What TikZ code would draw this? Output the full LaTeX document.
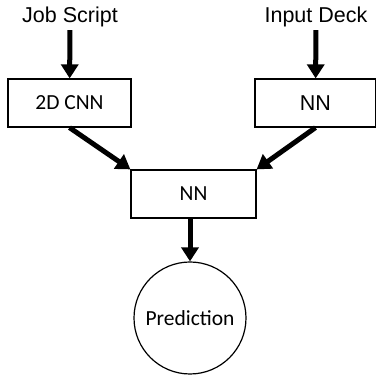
\documentclass[tikz,border=0pt]{standalone}
\usepackage{fontspec}
\setmainfont{Carlito}
\newfontfamily\arialfont{Liberation Sans}
\usetikzlibrary{arrows.meta}
\tikzstyle{lbl}=[inner sep=3pt, font=\arialfont\fontsize{21.5}{26}\selectfont]
\tikzstyle{bx}=[draw, line width=1.2pt, minimum height=48pt, inner sep=0, font=\fontsize{21.5}{26}\selectfont]
\tikzstyle{circ}=[draw, circle, line width=1.2pt, minimum size=112pt, inner sep=0, font=\fontsize{21.5}{26}\selectfont]
\tikzstyle{arr}=[line width=5pt, -{Triangle[length=14pt, width=17pt]}]

\begin{document}
\begin{tikzpicture}[x=1pt, y=1pt]
\useasboundingbox (0,0) rectangle (376,375);
\node at (70,358)[lbl](job){Job Script};
\node at (316,358)[lbl](deck){Input Deck};
\node at (69.5,272)[bx, minimum width=123pt](cnn){2D CNN};
\node at (315.5,272)[bx, minimum width=121pt, font=\arialfont\fontsize{21.5}{26}\selectfont](nnin){NN};
\node at (193.5,181)[bx, minimum width=125pt](nn){NN};
\node at (190,57)[circ](pred){Prediction};
\draw[arr] (job) -- (cnn);
\draw[arr] (deck) -- (nnin);
\draw[arr] (cnn.south) -- (nn.north west);
\draw[arr] (nnin.south) -- (nn.north east);
\draw[arr] (nn.south -| pred.north) -- (pred);
\end{tikzpicture}
\end{document}
